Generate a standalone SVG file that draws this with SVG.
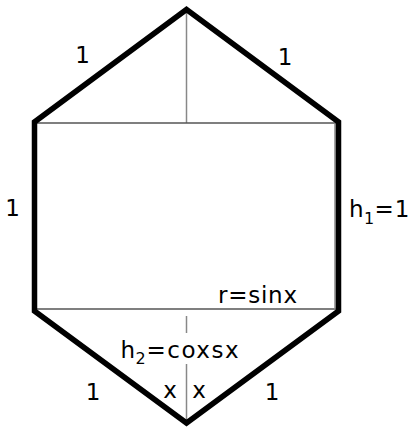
<svg xmlns="http://www.w3.org/2000/svg" width="411" height="428" viewBox="0 0 411 428">
<style>
.lbl{font-family:"DejaVu Sans",Verdana,sans-serif;font-size:23px;fill:#000}
.sub{font-size:16px}
.thin{stroke:#555;stroke-width:1.5;fill:none}
.thinv{stroke:#888;stroke-width:1.5;fill:none}
.thick{stroke:#000;stroke-width:5.5;fill:none;stroke-linejoin:miter}
</style>
<rect width="411" height="428" fill="#fff"/>
<g id="connectors">
<line class="thinv" x1="186.5" y1="9" x2="186.5" y2="123"/>
<line class="thin" x1="35" y1="123" x2="338" y2="123"/>
<line class="thin" x1="35" y1="309" x2="338" y2="309"/>
<line class="thinv" x1="335" y1="123" x2="335" y2="309"/>
<line class="thinv" x1="186.5" y1="316" x2="186.5" y2="333"/>
<line class="thinv" x1="186.5" y1="364" x2="186.5" y2="423"/>
<polygon id="hexagon" class="thick" points="186.5,9.5 338.5,122 338.5,311 186.5,423 34.5,311 34.5,122"/>
</g>
<g id="labels">
<text class="lbl" x="82.5" y="63" text-anchor="middle">1</text>
<text class="lbl" x="285" y="65" text-anchor="middle">1</text>
<text class="lbl" x="12.5" y="216" text-anchor="middle">1</text>
<text class="lbl" x="93" y="400" text-anchor="middle">1</text>
<text class="lbl" x="272" y="400" text-anchor="middle">1</text>
<text class="lbl" x="170" y="398" text-anchor="middle">x</text>
<text class="lbl" x="199" y="398" text-anchor="middle">x</text>
<text class="lbl" x="218" y="303" textLength="79" lengthAdjust="spacing">r=sinx</text>
<text class="lbl" x="349" y="217">h<tspan class="sub" x="364" y="224">1</tspan><tspan x="374.5" y="217" textLength="35" lengthAdjust="spacing">=1</tspan></text>
<text class="lbl" x="120.5" y="358">h<tspan class="sub" x="135.5" y="364">2</tspan><tspan x="146.5" y="358" textLength="92" lengthAdjust="spacing">=coxsx</tspan></text>
</g>
</svg>
